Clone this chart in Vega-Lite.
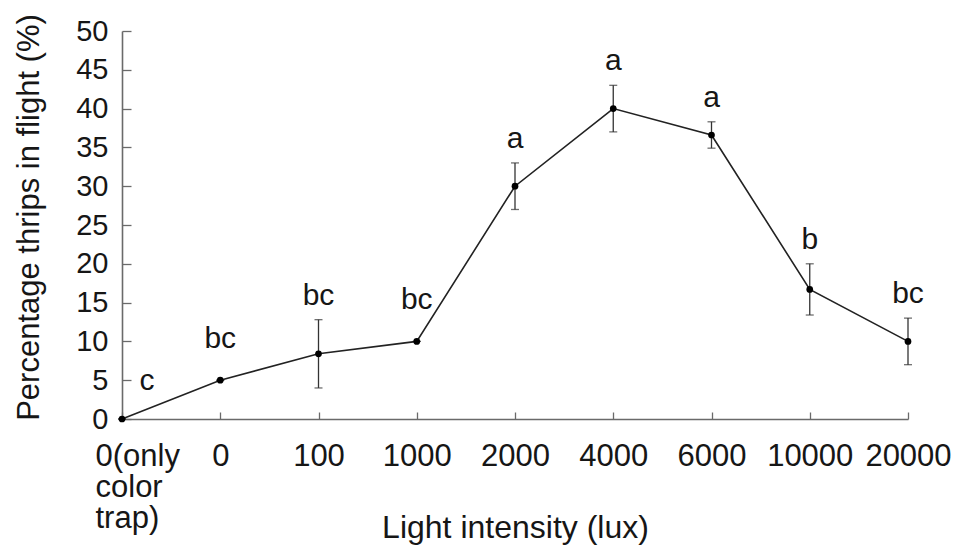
{
  "$schema": "https://vega.github.io/schema/vega-lite/v6.json",
  "width": 786,
  "height": 388,
  "autosize": {"type": "none"},
  "padding": {"left": 122, "top": 31, "right": 53, "bottom": 126},
  "background": "white",
  "config": {
    "view": {"stroke": null},
    "font": "Liberation Sans",
    "axis": {
      "labelFont": "Liberation Sans",
      "titleFont": "Liberation Sans",
      "labelColor": "#161616",
      "titleColor": "#161616",
      "titleFontWeight": "normal",
      "domainColor": "#6a6a6a",
      "tickColor": "#6a6a6a",
      "domainWidth": 1.6,
      "tickWidth": 1.3,
      "grid": false
    }
  },
  "data": {
    "values": [
      {"intensity": "0(only color trap)", "mean": 0, "se": 0, "letter": "c"},
      {"intensity": "0", "mean": 5, "se": 0, "letter": "bc"},
      {"intensity": "100", "mean": 8.4, "se": 4.4, "letter": "bc"},
      {"intensity": "1000", "mean": 10, "se": 0, "letter": "bc"},
      {"intensity": "2000", "mean": 30, "se": 3, "letter": "a"},
      {"intensity": "4000", "mean": 40, "se": 3, "letter": "a"},
      {"intensity": "6000", "mean": 36.6, "se": 1.7, "letter": "a"},
      {"intensity": "10000", "mean": 16.7, "se": 3.3, "letter": "b"},
      {"intensity": "20000", "mean": 10, "se": 3, "letter": "bc"}
    ]
  },
  "transform": [{"calculate": "datum.mean + datum.se", "as": "upper"}],
  "encoding": {
    "x": {
      "field": "intensity",
      "type": "ordinal",
      "sort": ["0(only color trap)", "0", "100", "1000", "2000", "4000", "6000", "10000", "20000"],
      "scale": {"type": "point", "padding": 0},
      "axis": {
        "title": "Light intensity (lux)",
        "titleFontSize": 32,
        "titleBaseline": "alphabetic",
        "titleY": 118,
        "labelFontSize": 31,
        "labelAngle": 0,
        "labelPadding": 29,
        "tickSize": -7,
        "labelLineHeight": 31,
        "labelBaseline": "top",
        "labelExpr": "datum.value == '0(only color trap)' ? ['0(only', 'color', 'trap)'] : datum.value",
        "labelAlign": {"condition": {"test": "datum.value == '0(only color trap)'", "value": "left"}, "value": "center"},
        "labelOffset": {"condition": {"test": "datum.value == '0(only color trap)'", "value": -27}, "value": 0}
      }
    },
    "y": {
      "field": "mean",
      "type": "quantitative",
      "scale": {"domain": [0, 50]},
      "axis": {
        "title": "Percentage thrips in flight (%)",
        "titleFontSize": 31,
        "titleBaseline": "alphabetic",
        "titleX": -84,
        "titleY": 186,
        "labelFontSize": 29,
        "labelPadding": 23,
        "tickSize": -9,
        "values": [0, 5, 10, 15, 20, 25, 30, 35, 40, 45, 50]
      }
    }
  },
  "layer": [
    {
      "mark": {"type": "errorbar", "ticks": {"size": 8, "color": "#333", "thickness": 1.3}, "rule": {"color": "#333", "strokeWidth": 1.3}},
      "encoding": {"yError": {"field": "se"}}
    },
    {
      "mark": {"type": "line", "color": "#222", "strokeWidth": 1.6},
      "encoding": {}
    },
    {
      "mark": {"type": "point", "filled": true, "color": "#000", "size": 45, "opacity": 1},
      "encoding": {}
    },
    {
      "transform": [{"filter": "datum.intensity != '0(only color trap)' && datum.intensity != '0' && datum.intensity != '1000'"}],
      "mark": {"type": "text", "fontSize": 30, "baseline": "alphabetic", "dy": -15, "color": "#161616"},
      "encoding": {"y": {"field": "upper", "type": "quantitative"}, "text": {"field": "letter"}}
    },
    {
      "transform": [{"filter": "datum.intensity == '0' || datum.intensity == '1000'"}],
      "mark": {"type": "text", "fontSize": 30, "baseline": "alphabetic", "dy": -32, "color": "#161616"},
      "encoding": {"y": {"field": "upper", "type": "quantitative"}, "text": {"field": "letter"}}
    },
    {
      "transform": [{"filter": "datum.intensity == '0(only color trap)'"}],
      "mark": {"type": "text", "fontSize": 30, "baseline": "alphabetic", "dx": 25, "dy": -29, "color": "#161616"},
      "encoding": {"y": {"field": "upper", "type": "quantitative"}, "text": {"field": "letter"}}
    }
  ]
}
